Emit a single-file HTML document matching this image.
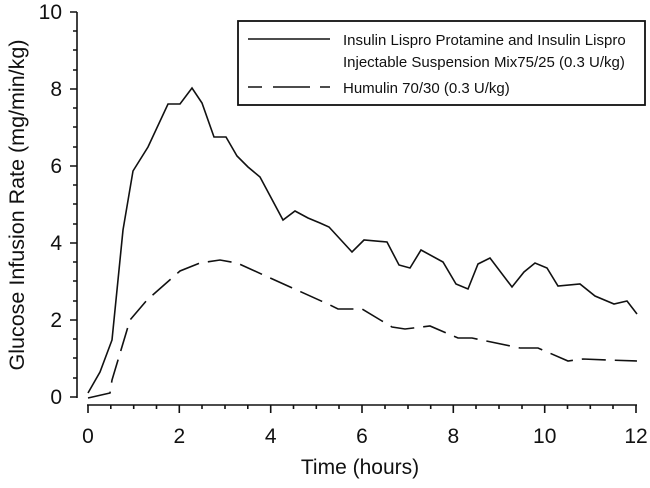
<!DOCTYPE html>
<html><head><style>html,body{margin:0;padding:0;background:#fff}svg{display:block}text{font-family:"Liberation Sans",sans-serif;fill:#111}</style></head>
<body>
<svg width="650" height="488" viewBox="0 0 650 488">
<g stroke="#111" stroke-width="1.6" fill="none">
<line x1="77" y1="12" x2="77" y2="398"/>
<line x1="87" y1="405" x2="637" y2="405"/>
<path d="M70 12h7M70 89h7M70 166h7M70 243h7M70 320h7M70 397h7M73 31h4M73 50h4M73 70h4M73 108h4M73 127h4M73 147h4M73 185h4M73 204h4M73 224h4M73 262h4M73 281h4M73 301h4M73 339h4M73 358h4M73 378h4"/>
<path d="M88 405v8M179.3 405v8M270.7 405v8M362 405v8M453.3 405v8M544.7 405v8M636 405v8M110.8 405v4M133.7 405v4M156.5 405v4M202 405v4M225 405v4M247.8 405v4M293.5 405v4M316.3 405v4M339 405v4M385 405v4M408 405v4M430.7 405v4M476 405v4M499 405v4M522 405v4M567.5 405v4M590.3 405v4M613 405v4"/>
<polyline points="88,393 100,372 112,340 123,230 133,171 148,147 168,104 180,104 192,88 202,103 214,137 226,137 237,156 248,167 260,177 283,220 295,211 308,218 320,223 329,227 352,252 364,240 387,242 399,265 410,268 421,250 443,262 456,284 468,289 478,264 490,258 512,287 524,272 535,263 547,268 558,286 580,284 595,296 614,304 627,301 637,314"/>
<polyline stroke-dasharray="24,9" points="88,398 110,393 112,380 130,320 147,300 180,271 200,263 220,260 237,263 330,305 338,309 362,309 392,327 405,329 430,326 458,338 472,338 520,348 538,348 568,361 583,359 607,360 637,361"/>
<rect x="238" y="21" width="407" height="84" stroke-width="1.8"/>
<line x1="248" y1="39" x2="330" y2="39"/>
<path d="M248 87h14M273 87h37M320 87h10"/>
</g>
<g font-size="21" text-anchor="end">
<text x="62" y="404">0</text><text x="62" y="327">2</text><text x="62" y="250">4</text><text x="62" y="173">6</text><text x="62" y="96">8</text><text x="62" y="19">10</text>
</g>
<g font-size="21" text-anchor="middle">
<text x="88" y="443">0</text><text x="179.3" y="443">2</text><text x="270.7" y="443">4</text><text x="362" y="443">6</text><text x="453.3" y="443">8</text><text x="544.7" y="443">10</text><text x="636" y="443">12</text>
<text x="360" y="474">Time (hours)</text>
<text transform="translate(24,205) rotate(-90)" font-size="21.5">Glucose Infusion Rate (mg/min/kg)</text>
</g>
<g font-size="15">
<text x="343" y="45">Insulin Lispro Protamine and Insulin Lispro</text>
<text x="343" y="67">Injectable Suspension Mix75/25 (0.3 U/kg)</text>
<text x="343" y="93">Humulin 70/30 (0.3 U/kg)</text>
</g>
</svg>
</body></html>
